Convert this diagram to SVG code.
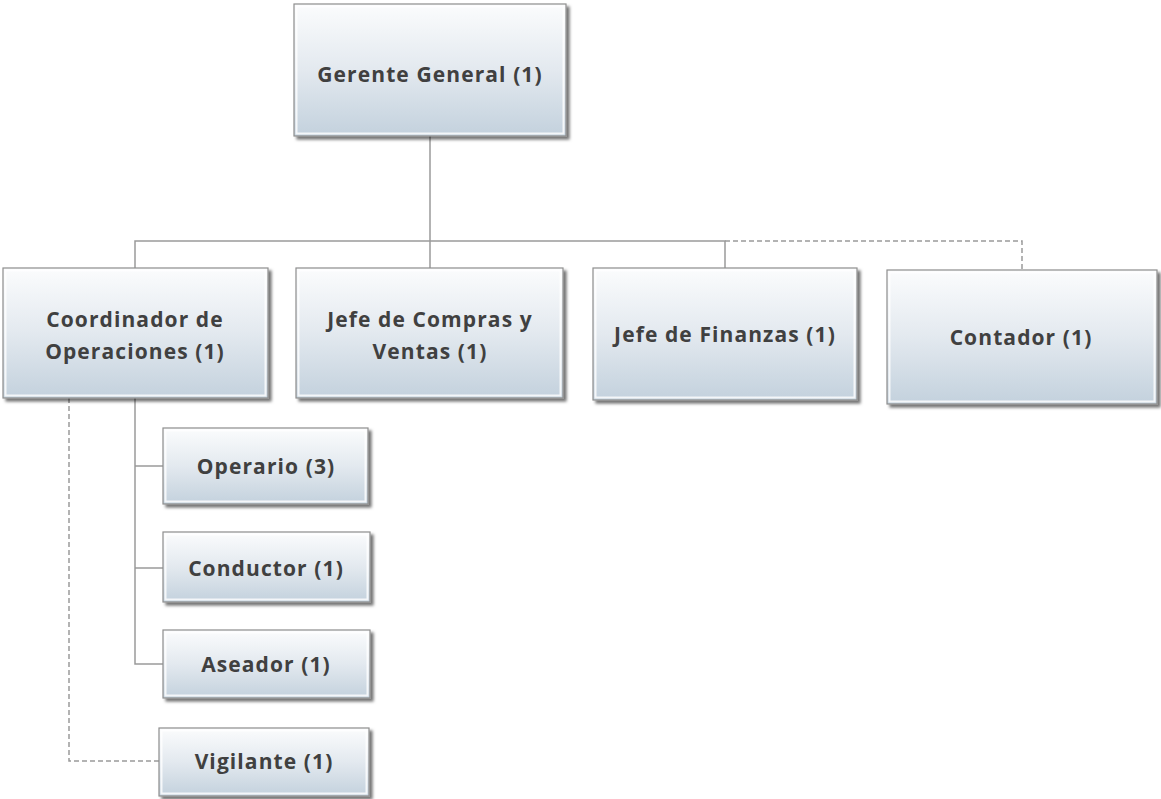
<svg xmlns="http://www.w3.org/2000/svg" width="1161" height="799" viewBox="0 0 1161 799">
<defs>
<linearGradient id="g" x1="0" y1="0" x2="0" y2="1">
<stop offset="0" stop-color="#fbfcfd"/>
<stop offset="0.5" stop-color="#e3e9ef"/>
<stop offset="1" stop-color="#c3d1dd"/>
</linearGradient>
<filter id="sh" x="-10%" y="-10%" width="130%" height="130%">
<feDropShadow dx="3" dy="3" stdDeviation="1.8" flood-color="#000" flood-opacity="0.55"/>
</filter>
</defs>
<style>
.box{fill:url(#g);stroke:#8e8e8e;stroke-width:1.2;filter:url(#sh)}
.in{fill:none;stroke:#ffffff;stroke-opacity:0.8;stroke-width:2}
.t{font-family:"Open Sans","Noto Sans","DejaVu Sans",sans-serif;font-weight:bold;font-size:21px;letter-spacing:1.1px;fill:#404040;text-anchor:middle}
.c{fill:none;stroke:#9a9a9a;stroke-width:1.5}
.d{fill:none;stroke:#9a9a9a;stroke-width:1.5;stroke-dasharray:5 3}
</style>
<rect width="1161" height="799" fill="#ffffff"/>
<g id="connectors">
<path class="c" d="M430 136 V268"/>
<path class="c" d="M135 268 V241 H725 V268"/>
<path class="d" d="M725 241 H1022 V270"/>
<path class="c" d="M135 398 V664 H163 M135 466 H163 M135 568 H163"/>
<path class="d" d="M69 398 V761 H159"/>
</g>
<g id="gerente">
<rect class="box" x="294" y="4" width="272" height="132"/>
<rect class="in" x="296.5" y="6.5" width="267" height="127"/>
<text class="t" x="430" y="82">Gerente General (1)</text>
</g>
<g id="coordinador">
<rect class="box" x="3" y="268" width="265" height="130"/>
<rect class="in" x="5.5" y="270.5" width="260" height="125"/>
<text class="t" x="135" y="327">Coordinador de</text>
<text class="t" x="135" y="359">Operaciones (1)</text>
</g>
<g id="compras">
<rect class="box" x="296" y="268" width="267" height="130"/>
<rect class="in" x="298.5" y="270.5" width="262" height="125"/>
<text class="t" x="430" y="327">Jefe de Compras y</text>
<text class="t" x="430" y="359">Ventas (1)</text>
</g>
<g id="finanzas">
<rect class="box" x="593" y="268" width="264" height="132"/>
<rect class="in" x="595.5" y="270.5" width="259" height="127"/>
<text class="t" x="725" y="342">Jefe de Finanzas (1)</text>
</g>
<g id="contador">
<rect class="box" x="887" y="270" width="270" height="134"/>
<rect class="in" x="889.5" y="272.5" width="265" height="129"/>
<text class="t" x="1021" y="345">Contador (1)</text>
</g>
<g id="operario">
<rect class="box" x="163" y="428" width="205" height="76"/>
<rect class="in" x="165.5" y="430.5" width="200" height="71"/>
<text class="t" x="266" y="474">Operario (3)</text>
</g>
<g id="conductor">
<rect class="box" x="163" y="532" width="207" height="70"/>
<rect class="in" x="165.5" y="534.5" width="202" height="65"/>
<text class="t" x="266" y="576">Conductor (1)</text>
</g>
<g id="aseador">
<rect class="box" x="163" y="630" width="207" height="68"/>
<rect class="in" x="165.5" y="632.5" width="202" height="63"/>
<text class="t" x="266" y="672">Aseador (1)</text>
</g>
<g id="vigilante">
<rect class="box" x="159" y="728" width="210" height="68"/>
<rect class="in" x="161.5" y="730.5" width="205" height="63"/>
<text class="t" x="264" y="769">Vigilante (1)</text>
</g>
</svg>
